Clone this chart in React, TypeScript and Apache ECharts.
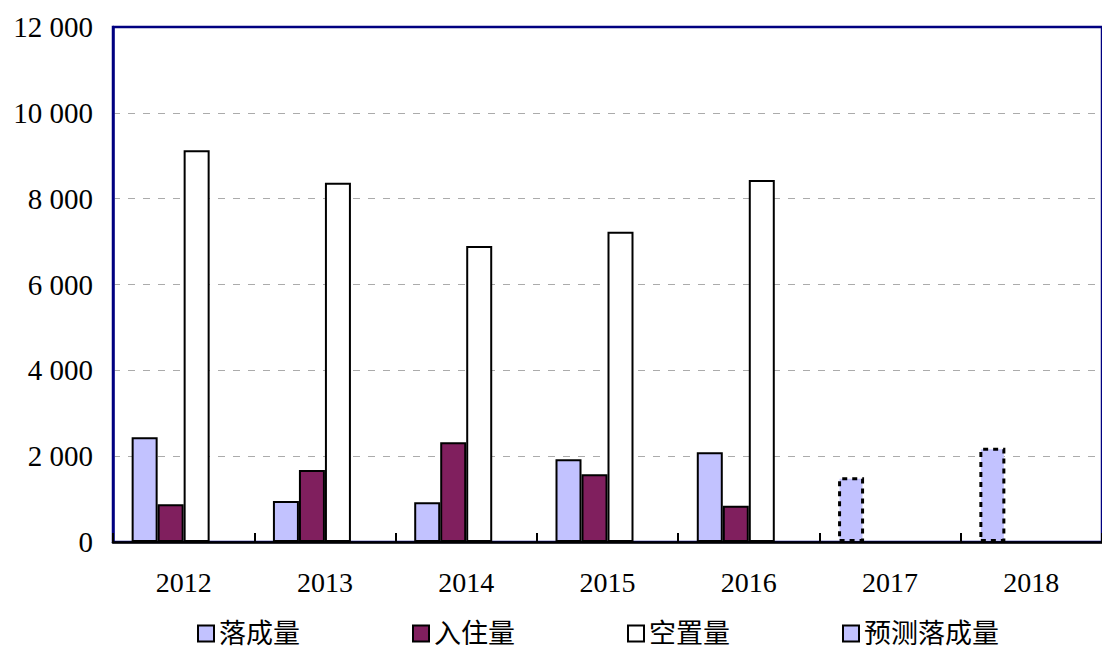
import React, { useEffect, useRef } from "react";
import * as echarts from "echarts";

const categories = ["2012", "2013", "2014", "2015", "2016", "2017", "2018"];
const completed = [2440, 955, 925, 1930, 2090, null, null];
const forecastCompleted = [null, null, null, null, null, 1507, 2197];
const occupied = [878, 1678, 2323, 1577, 846, null, null];
const vacant = [9130, 8372, 6897, 7231, 8435, null, null];
const forecastSlot = [null, null, null, null, null, null, null];
const seriesNames = ["落成量", "入住量", "空置量", "预测落成量"];

const LIGHT = "#C2C2FF";
const PLUM = "#801F5E";
const NAVY = "#000080";
const SERIF = "'Liberation Serif', 'Times New Roman', serif";
const CJK = "'Liberation Serif', 'Noto Sans CJK SC', serif";

export default function App() {
  const ref = useRef<HTMLDivElement>(null);
  useEffect(() => {
    if (!ref.current) return;
    const chart = echarts.init(ref.current, null, { renderer: "svg" });
    const border = { borderColor: "#000", borderWidth: 2 };
    const dashed = { color: LIGHT, borderColor: "#000", borderWidth: 3, borderType: [5, 5] };
    const firstData = categories.map((_, i) => {
      if (completed[i] != null) return completed[i];
      if (forecastCompleted[i] != null)
        return { value: forecastCompleted[i], itemStyle: dashed };
      return "-";
    });
    const option: any = {
      animation: false,
      backgroundColor: "#fff",
      grid: {
        left: 113,
        top: 27,
        width: 997,
        bottom: 106,
        show: true,
        borderColor: NAVY,
        borderWidth: 2.5,
        backgroundColor: "transparent",
      },
      legend: {
        left: 197,
        top: 620,
        padding: 0,
        icon: "rect",
        itemWidth: 16,
        itemHeight: 16,
        itemGap: 112,
        textStyle: { fontFamily: CJK, fontSize: 27, lineHeight: 27, color: "#000" },
        data: seriesNames,
      },
      xAxis: {
        type: "category",
        data: categories,
        axisLine: { show: true, lineStyle: { color: "#000", width: 2.5 } },
        axisTick: { show: true, inside: true, length: 9, lineStyle: { color: "#000", width: 2 } },
        axisLabel: { fontFamily: SERIF, fontSize: 28, color: "#000", margin: 26 },
        splitLine: { show: false },
        z: 10,
      },
      yAxis: {
        type: "value",
        min: 0,
        max: 12000,
        interval: 2000,
        axisLine: { show: true, lineStyle: { color: NAVY, width: 2.5 } },
        axisTick: { show: false },
        axisLabel: {
          fontFamily: SERIF,
          fontSize: 29,
          color: "#000",
          margin: 20,
          formatter: (v: number) => {
            const s = String(v);
            return s.length > 3 ? s.slice(0, s.length - 3) + " " + s.slice(-3) : s;
          },
        },
        splitLine: {
          show: true,
          showMinLine: false,
          showMaxLine: false,
          lineStyle: { color: "#ababab", width: 1, type: [7, 8] },
        },
      },
      series: [
        {
          name: seriesNames[0],
          type: "bar",
          barWidth: 26,
          barGap: "0%",
          itemStyle: { color: LIGHT, ...border },
          data: firstData,
        },
        {
          name: seriesNames[1],
          type: "bar",
          barWidth: 26,
          barGap: "0%",
          itemStyle: { color: PLUM, ...border },
          data: occupied.map((v) => (v == null ? "-" : v)),
        },
        {
          name: seriesNames[2],
          type: "bar",
          barWidth: 26,
          barGap: "0%",
          itemStyle: { color: "#fff", ...border },
          data: vacant.map((v) => (v == null ? "-" : v)),
        },
        {
          name: seriesNames[3],
          type: "bar",
          barWidth: 26,
          barGap: "0%",
          itemStyle: dashed,
          data: forecastSlot.map((v) => (v == null ? "-" : v)),
        },
      ],
    };
    chart.setOption(option);
    return () => chart.dispose();
  }, []);
  return (
    <div
      ref={ref}
      style={{ position: "fixed", left: 0, top: 0, width: 1102, height: 648, background: "#fff" }}
    />
  );
}
